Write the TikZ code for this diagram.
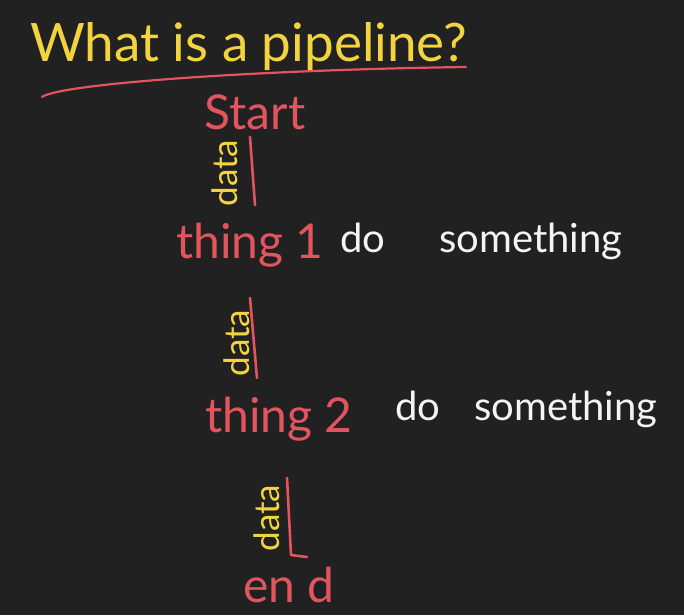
\documentclass[tikz,border=0pt]{standalone}
\usepackage{fontspec}
\setmainfont{Lato}
\definecolor{bgc}{HTML}{212121}
\definecolor{yel}{HTML}{F2D43E}
\definecolor{redc}{HTML}{E2555E}
\definecolor{whi}{HTML}{F4F4F4}
\begin{document}
\begin{tikzpicture}[x=1pt,y=-1pt,
  txt/.style={inner sep=0pt,outer sep=0pt},
  title/.style={txt,text=yel,font=\fontsize{53}{60}\selectfont},
  stage/.style={txt,text=redc,font=\fontsize{48}{54}\selectfont},
  task/.style={txt,text=whi,font=\fontsize{40}{46}\selectfont},
  datalbl/.style={txt,text=yel,rotate=90,font=\fontsize{35}{40}\selectfont},
  flow/.style={draw=redc,line width=2.6pt,line cap=round,line join=round}]
\fill[bgc] (0,0) rectangle (684,615);
\useasboundingbox (0,0) rectangle (684,615);
\node[title,anchor=base west] (title) at (30,62) {What is a pipeline?};
\coordinate (ul1) at (42,97);
\coordinate (ul2) at (466,67);
\draw[flow,line width=2.2pt] (ul1) .. controls (60,84) and (250,70) .. (ul2);
\node[stage] (start) at (255,112) {Start};
\node[datalbl] (data1) at (225,173) {data};
\coordinate (a1) at (250,137);
\coordinate (b1) at (255,205);
\draw[flow] (a1) -- (b1);
\node[stage,anchor=base west] (thing1) at (176,258) {thing 1};
\node[task,anchor=base west] (do1) at (340,252) {do\hspace{1.35em}something};
\node[datalbl] (data2) at (237,343) {data};
\coordinate (a2) at (250,298);
\coordinate (b2) at (257,378);
\draw[flow] (a2) -- (b2);
\node[stage,anchor=base west] (thing2) at (205,432) {thing 2};
\node[task,anchor=base west] (do2) at (395,420) {do\hspace{0.85em}something};
\node[datalbl] (data3) at (267,518) {data};
\coordinate (a3) at (287,478);
\coordinate (b3) at (291,555);
\coordinate (c3) at (307,557);
\draw[flow] (a3) -- (b3) -- (c3);
\node[stage,anchor=base west] (endn) at (243,602) {en d};
\end{tikzpicture}
\end{document}
